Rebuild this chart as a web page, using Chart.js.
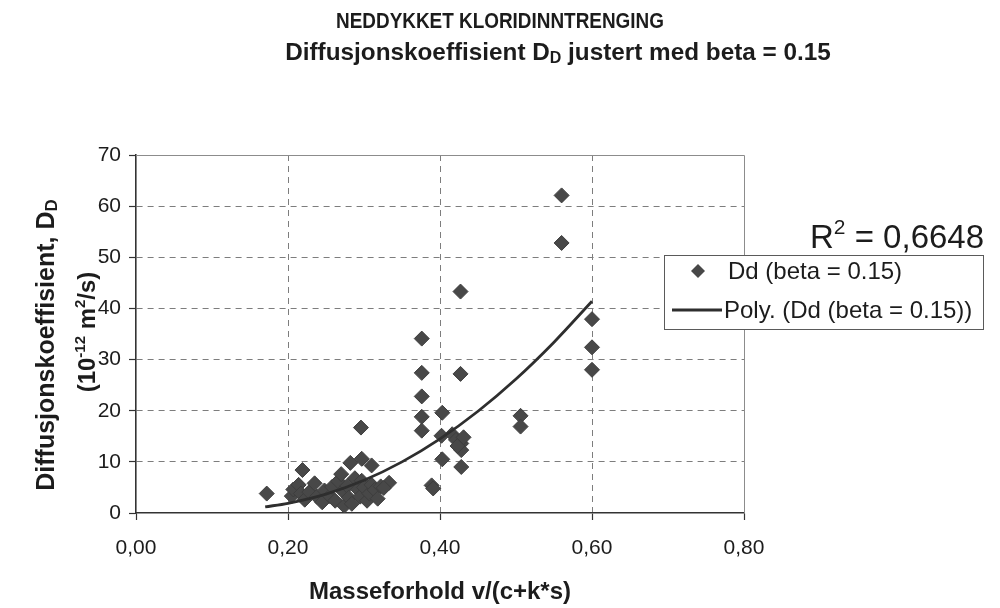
<!DOCTYPE html>
<html>
<head>
<meta charset="utf-8">
<script src="https://cdn.jsdelivr.net/npm/chart.js@4.4.1/dist/chart.umd.min.js"></script>
<style>
  html, body { margin: 0; padding: 0; background: #ffffff; }
  #wrap { width: 1000px; height: 608px; position: relative; }
</style>
</head>
<body>
<div id="wrap"><canvas id="chart"></canvas></div>
<script>
// Measured ratio v/(c+k*s) for each specimen
const ratioX = [
  0.172, 0.219, 0.296, 0.282, 0.297, 0.310, 0.333,
  0.376, 0.376, 0.376, 0.376, 0.376,
  0.403, 0.402, 0.403, 0.389, 0.391,
  0.427, 0.427, 0.428, 0.416, 0.421, 0.428, 0.428, 0.423, 0.431,
  0.506, 0.506, 0.560, 0.560, 0.600, 0.600, 0.600,
  0.205, 0.207, 0.214, 0.217, 0.222, 0.228, 0.235, 0.238, 0.245, 0.248,
  0.255, 0.258, 0.262, 0.266, 0.270, 0.272, 0.274, 0.278, 0.280, 0.284,
  0.288, 0.292, 0.295, 0.297, 0.300, 0.304, 0.307, 0.310, 0.314, 0.318,
  0.322, 0.326
];
// Diffusion coefficient D_D (10^-12 m2/s), beta = 0.15
const diffD = [
  3.8, 8.4, 16.7, 9.8, 10.6, 9.3, 5.9,
  34.1, 27.4, 22.8, 18.8, 16.1,
  19.6, 15.1, 10.5, 5.4, 4.8,
  43.3, 27.2, 9.0, 15.4, 14.3, 13.6, 12.3, 13.1, 14.8,
  19.0, 16.9, 62.1, 52.8, 37.9, 32.4, 28.0,
  3.3, 4.6, 5.5, 3.8, 2.6, 4.1, 5.8, 3.2, 2.1, 4.4,
  3.3, 5.1, 2.4, 6.2, 7.6, 4.3, 1.4, 5.3, 3.0, 1.8,
  6.8, 4.6, 3.2, 6.3, 5.0, 2.4, 3.8, 5.5, 4.5, 2.8,
  5.2, 4.9
];
// Second-order polynomial trend line
const trendX = [0.17, 0.20, 0.25, 0.30, 0.35, 0.40, 0.45, 0.50, 0.55, 0.60];
const trendY = [1.2, 1.9, 3.7, 6.4, 10.0, 14.5, 19.9, 26.2, 33.4, 41.4];

const xTickValues = [0, 0.2, 0.4, 0.6, 0.8];
const xTickLabels = ['0,00', '0,20', '0,40', '0,60', '0,80'];
const yTickValues = [0, 10, 20, 30, 40, 50, 60, 70];
const yTickLabels = ['0', '10', '20', '30', '40', '50', '60', '70'];

const seriesLabel = 'Dd (beta = 0.15)';
const trendLabel = 'Poly. (Dd (beta = 0.15))';
const rSquaredText = '0,6648';

const FONT = "'Liberation Sans', Arial, Helvetica, sans-serif";
const INK = '#1c1c1c';
const MARK = '#484848';

// Draw a run of text pieces (with sub/superscripts) on one baseline
function drawRuns(ctx, runs, x, y, align) {
  let total = 0;
  runs.forEach(r => {
    ctx.font = (r.bold ? 'bold ' : '') + r.size + 'px ' + FONT;
    r.w = ctx.measureText(r.text).width;
    total += r.w;
  });
  let cx = align === 'center' ? x - total / 2 : (align === 'right' ? x - total : x);
  ctx.textAlign = 'left';
  ctx.textBaseline = 'alphabetic';
  runs.forEach(r => {
    ctx.font = (r.bold ? 'bold ' : '') + r.size + 'px ' + FONT;
    ctx.fillText(r.text, cx, y + (r.dy || 0));
    cx += r.w;
  });
}

const decorations = {
  id: 'decorations',
  beforeDatasetsDraw(chart) {
    const { ctx, chartArea: a } = chart;
    ctx.save();
    ctx.strokeStyle = '#8c8c8c';
    ctx.lineWidth = 1;
    ctx.beginPath();
    ctx.moveTo(a.left, a.top + 0.5);
    ctx.lineTo(a.right + 0.5, a.top + 0.5);
    ctx.lineTo(a.right + 0.5, a.bottom);
    ctx.stroke();
    ctx.restore();
  },
  afterDraw(chart) {
    const { ctx, chartArea: a } = chart;
    ctx.save();
    ctx.fillStyle = INK;

    // Chart title: first line set in a condensed cut
    ctx.save();
    ctx.translate(500, 28);
    ctx.scale(0.86, 1);
    drawRuns(ctx, [{ text: 'NEDDYKKET KLORIDINNTRENGING', size: 22, bold: true }], 0, 0, 'center');
    ctx.restore();
    drawRuns(ctx, [
      { text: 'Diffusjonskoeffisient D', size: 24.3, bold: true },
      { text: 'D', size: 16, bold: true, dy: 3 },
      { text: ' justert med beta = 0.15', size: 24.3, bold: true }
    ], 558, 60, 'center');

    // X axis title
    drawRuns(ctx, [{ text: 'Masseforhold v/(c+k*s)', size: 24, bold: true }], (a.left + a.right) / 2, 599, 'center');

    // Y axis title, two lines rotated
    ctx.save();
    ctx.translate(54, 345);
    ctx.rotate(-Math.PI / 2);
    drawRuns(ctx, [
      { text: 'Diffusjonskoeffisient, D', size: 25, bold: true },
      { text: 'D', size: 17, bold: true, dy: 3 }
    ], 0, 0, 'center');
    ctx.restore();
    ctx.save();
    ctx.translate(95, 332);
    ctx.rotate(-Math.PI / 2);
    drawRuns(ctx, [
      { text: '(10', size: 24, bold: true },
      { text: '-12', size: 15, bold: true, dy: -10 },
      { text: ' m', size: 24, bold: true },
      { text: '2', size: 15, bold: true, dy: -10 },
      { text: '/s)', size: 24, bold: true }
    ], 0, 0, 'center');
    ctx.restore();

    // Coefficient of determination
    drawRuns(ctx, [
      { text: 'R', size: 33 },
      { text: '2', size: 21, dy: -14 },
      { text: ' = ' + rSquaredText, size: 33 }
    ], 810, 248, 'left');

    // Legend box
    const ds = chart.data.datasets;
    ctx.fillStyle = '#ffffff';
    ctx.fillRect(664, 255, 319, 74);
    ctx.strokeStyle = '#5a5a5a';
    ctx.lineWidth = 1;
    ctx.strokeRect(664.5, 255.5, 319, 74);

    ctx.fillStyle = MARK;
    ctx.beginPath();
    ctx.moveTo(698, 264); ctx.lineTo(705, 271); ctx.lineTo(698, 278); ctx.lineTo(691, 271);
    ctx.closePath();
    ctx.fill();

    ctx.strokeStyle = '#2e2e2e';
    ctx.lineWidth = 2.8;
    ctx.beginPath();
    ctx.moveTo(672, 310); ctx.lineTo(722, 310);
    ctx.stroke();

    ctx.fillStyle = INK;
    drawRuns(ctx, [{ text: ds[1].label, size: 24 }], 728, 279, 'left');
    drawRuns(ctx, [{ text: ds[0].label, size: 24 }], 724, 318, 'left');
    ctx.restore();
  }
};

const gridColor = (lo, hi) => c => (c.tick && c.tick.value > lo && c.tick.value < hi) ? '#7d7d7d' : 'rgba(0,0,0,0)';

new Chart(document.getElementById('chart'), {
  type: 'scatter',
  data: {
    datasets: [
      {
        type: 'line',
        label: trendLabel,
        data: trendX.map((x, i) => ({ x: x, y: trendY[i] })),
        borderColor: '#2e2e2e',
        borderWidth: 2.8,
        pointRadius: 0,
        fill: false,
        cubicInterpolationMode: 'monotone'
      },
      {
        type: 'scatter',
        label: seriesLabel,
        data: ratioX.map((x, i) => ({ x: x, y: diffD[i] })),
        pointStyle: 'rectRot',
        pointRadius: 7.5,
        backgroundColor: MARK,
        borderColor: '#3e3e3e',
        borderWidth: 1
      }
    ]
  },
  options: {
    responsive: true,
    maintainAspectRatio: false,
    animation: false,
    events: [],
    layout: { padding: { top: 155, right: 256, bottom: 0, left: 0 } },
    plugins: { legend: { display: false }, title: { display: false }, tooltip: { enabled: false } },
    scales: {
      x: {
        type: 'linear',
        min: 0, max: 0.8,
        afterBuildTicks: s => { s.ticks = xTickValues.map(v => ({ value: v })); },
        afterFit: s => { s.height = 95; },
        ticks: {
          callback: (v, i) => xTickLabels[i],
          font: { family: FONT, size: 21 },
          color: INK,
          padding: 16,
          maxRotation: 0
        },
        grid: {
          color: gridColor(0, 0.8),
          lineWidth: 1,
          tickLength: 7,
          tickColor: '#333333',
          tickWidth: 1.2,
          tickBorderDash: []
        },
        border: { display: true, color: '#333333', width: 1.6, dash: [6, 5] }
      },
      y: {
        type: 'linear',
        min: 0, max: 70,
        afterBuildTicks: s => { s.ticks = yTickValues.map(v => ({ value: v })); },
        afterFit: s => { s.width = 136; },
        ticks: {
          callback: (v, i) => yTickLabels[i],
          font: { family: FONT, size: 21 },
          color: INK,
          padding: 8
        },
        grid: {
          color: gridColor(0, 70),
          lineWidth: 1,
          tickLength: 7,
          tickColor: '#333333',
          tickWidth: 1.2,
          tickBorderDash: []
        },
        border: { display: true, color: '#333333', width: 1.6, dash: [6, 5] }
      }
    }
  },
  plugins: [decorations]
});
</script>
</body>
</html>
